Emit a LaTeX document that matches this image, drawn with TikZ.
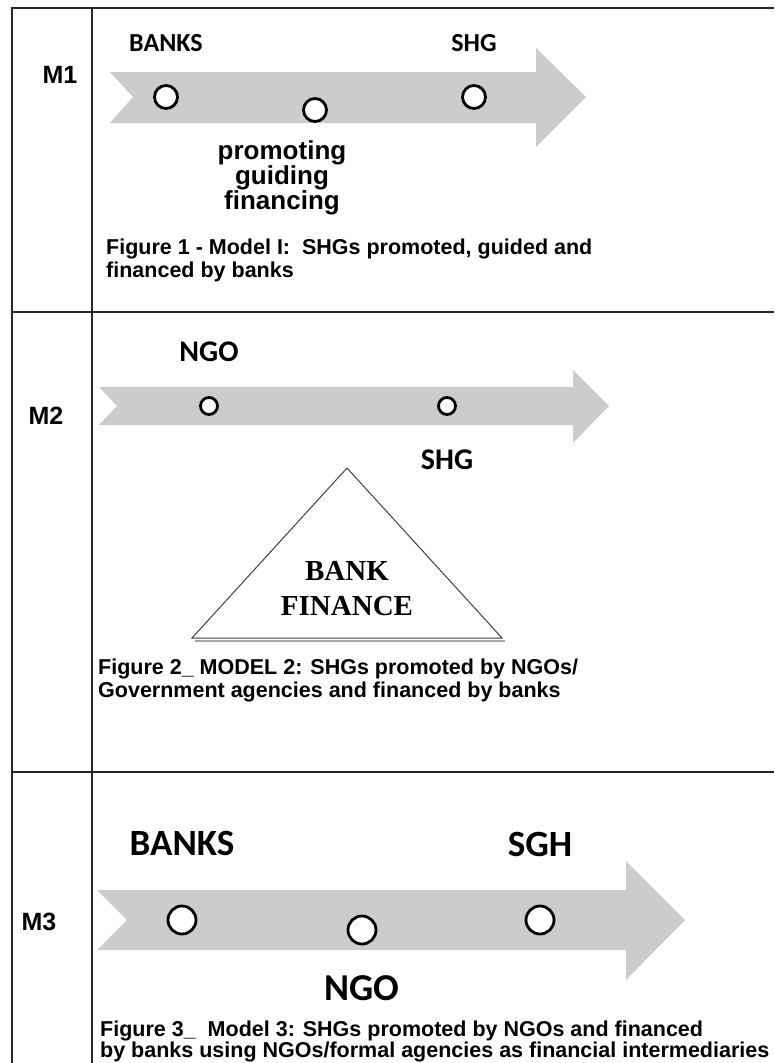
\documentclass[tikz,border=0pt]{standalone}
\usepackage{fontspec}
\setmainfont{Liberation Sans}
\newfontfamily\calibri{Carlito}
\newfontfamily\timesfont{Liberation Serif}
\usetikzlibrary{positioning}
\definecolor{bandgray}{RGB}{204,204,204}

\begin{document}
\begin{tikzpicture}[x=1pt, y=-1pt,
    ring/.style={circle, draw, line width=2.8pt, fill=white, inner sep=0pt, outer sep=0pt},
    tag/.style={font=\calibri\bfseries\fontsize{#1}{#1}\selectfont, inner sep=0pt},
    rowlabel/.style={font=\bfseries\fontsize{25}{25}\selectfont, inner sep=0pt, anchor=base},
    figcap/.style={font=\bfseries\fontsize{21.5}{#1}\selectfont, align=left, anchor=base west, inner sep=0pt},
    band/.style={fill=bandgray},
    gridline/.style={line width=2pt, draw=black!85}
]
\useasboundingbox (0,0) rectangle (774,1063);

% Table
\draw[gridline] (12,1063) -- (12,8) -- (774,8);
\draw[gridline] (92,8) -- (92,1063);
\draw[gridline] (12,312) -- (774,312);
\draw[gridline] (12,772) -- (774,772);

% Model 1
\node[rowlabel] (m1) at (60,83) {M1};
\fill[band] (110,72) -- (536,72) -- (536,48) -- (586,97) -- (536,147) -- (536,123) -- (110,123) -- (133,97) -- cycle;
\node[ring, minimum size=23pt] (banks1) at (166,97) {};
\node[ring, minimum size=23pt] (roles1) at (315,110) {};
\node[ring, minimum size=23pt] (shg1) at (474,97) {};
\node[tag=26, above=33.5pt of banks1] (lbanks1) {BANKS};
\node[tag=26, above=33.5pt of shg1] (lshg1) {SHG};
\node[font=\bfseries\fontsize{26}{25}\selectfont, align=center, inner sep=0pt, anchor=base] (lroles1) at (282,209) {promoting\\guiding\\financing};
\node[figcap=23] (cap1) at (106,277) {Figure 1 - Model I:\ \ SHGs promoted, guided and\\financed by banks};

% Model 2
\node[rowlabel] (m2) at (46,424) {M2};
\fill[band] (99,387) -- (573,387) -- (573,370) -- (609,406) -- (573,443) -- (573,425) -- (99,425) -- (117,406) -- cycle;
\node[ring, minimum size=17pt] (ngo2) at (209,406) {};
\node[ring, minimum size=17pt] (shg2) at (447,406) {};
\node[tag=30, above=35.5pt of ngo2] (lngo2) {NGO};
\node[tag=30, below=35.5pt of shg2] (lshg2) {SHG};

% Bank finance
\draw[line width=2.5pt, black!35] (195,641) -- (505,641);
\draw[line width=1pt, draw=black!75, fill=white] (347,468) -- (502,638) -- (192,638) -- cycle;
\node[font=\timesfont\bfseries\fontsize{29}{35}\selectfont, align=center, inner sep=0pt, anchor=base] (finance) at (347,615) {BANK\\FINANCE};
\node[figcap=23] (cap2) at (98,697) {Figure 2\_ MODEL 2: SHGs promoted by NGOs/\\Government agencies and financed by banks};

% Model 3
\node[rowlabel] (m3) at (39,930) {M3};
\fill[band] (97,890) -- (626,890) -- (626,861) -- (685,920) -- (626,980) -- (626,950) -- (97,950) -- (127,920) -- cycle;
\node[ring, minimum size=28pt] (banks3) at (182,920) {};
\node[ring, minimum size=28pt] (ngo3) at (362,930) {};
\node[ring, minimum size=28pt] (sgh3) at (540,920) {};
\node[tag=37, above=50pt of banks3] (lbanks3) {BANKS};
\node[tag=37, above=49pt of sgh3] (lsgh3) {SGH};
\node[tag=38, below=31pt of ngo3] (lngo3) {NGO};
\node[figcap=20.5] (cap3) at (100,1057) {Figure 3\_\ \ Model 3: SHGs promoted by NGOs and financed\\by banks using NGOs/formal agencies as financial intermediaries};

\end{tikzpicture}
\end{document}
